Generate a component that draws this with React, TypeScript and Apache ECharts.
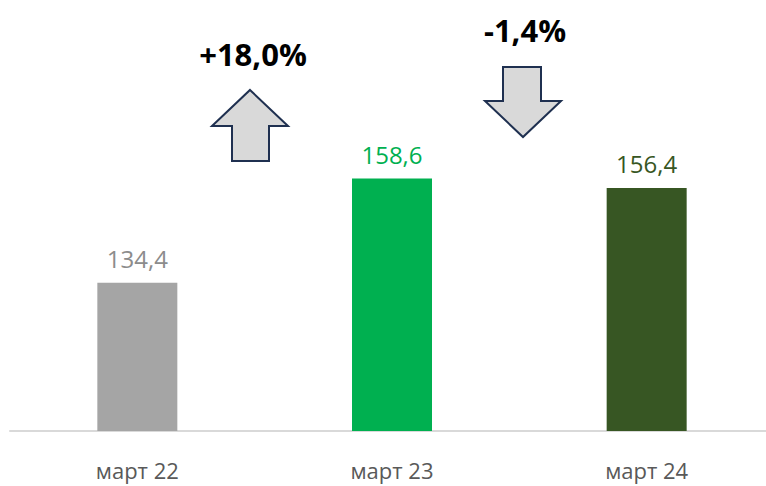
import React, { useEffect, useRef } from "react";
import * as echarts from "echarts";

const categories = ["март 22", "март 23", "март 24"];
const values = [134.4, 158.6, 156.4];
const valueLabels = ["134,4", "158,6", "156,4"];
const barColors = ["#a5a5a5", "#00b050", "#375623"];
const labelColors = ["#8c8c8c", "#00b050", "#375623"];
const changes = ["+18,0%", "-1,4%"];

export default function App() {
  const ref = useRef<HTMLDivElement>(null);
  useEffect(() => {
    if (!ref.current) return;
    const chart = echarts.init(ref.current, undefined, { renderer: "svg" });
    const arrowStyle = { fill: "#d9d9d9", stroke: "#1f3050", lineWidth: 2 };
    chart.setOption({
      animation: false,
      grid: { left: 10, right: 0, top: 0, bottom: 55 },
      xAxis: {
        type: "category",
        data: categories,
        axisLine: { show: true, lineStyle: { color: "#d9d9d9", width: 2 } },
        axisTick: { show: false },
        axisLabel: {
          color: "#595959",
          fontSize: 22,
          fontFamily: "Open Sans",
          margin: 28,
        },
      },
      yAxis: {
        type: "value",
        min: 100,
        max: 200,
        show: false,
        splitLine: { show: false },
      },
      series: [
        {
          type: "bar",
          barWidth: 80,
          data: values.map((v, i) => ({
            value: v,
            itemStyle: { color: barColors[i] },
            label: {
              show: true,
              position: "top",
              distance: 12,
              formatter: valueLabels[i],
              color: labelColors[i],
              fontSize: 24,
              fontFamily: "Open Sans",
            },
          })),
        },
      ],
      graphic: [
        {
          type: "polygon",
          shape: {
            points: [
              [250, 90],
              [288, 126],
              [269, 126],
              [269, 161],
              [232, 161],
              [232, 126],
              [212, 126],
            ],
          },
          style: arrowStyle,
        },
        {
          type: "polygon",
          shape: {
            points: [
              [503, 67],
              [541, 67],
              [541, 101],
              [561, 101],
              [523, 137],
              [485, 101],
              [503, 101],
            ],
          },
          style: arrowStyle,
        },
        {
          type: "text",
          x: 253,
          y: 54,
          style: {
            text: changes[0],
            fill: "#000000",
            font: "bold 31px 'Open Sans'",
            textAlign: "center",
            textVerticalAlign: "middle",
          },
        },
        {
          type: "text",
          x: 525,
          y: 30,
          style: {
            text: changes[1],
            fill: "#000000",
            font: "bold 31px 'Open Sans'",
            textAlign: "center",
            textVerticalAlign: "middle",
          },
        },
      ],
    });
    return () => chart.dispose();
  }, []);
  return (
    <div
      style={{
        position: "absolute",
        left: 0,
        top: 0,
        width: 766,
        height: 486,
        overflow: "hidden",
      }}
    >
      <div ref={ref} style={{ width: 774, height: 486 }} />
    </div>
  );
}
